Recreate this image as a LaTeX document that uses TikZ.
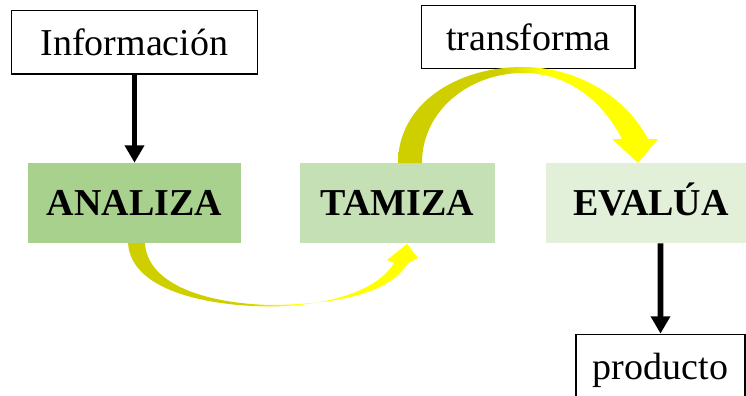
\documentclass[tikz,border=0pt]{standalone}
\usepackage{fontspec}
\setmainfont{Liberation Serif}
\usetikzlibrary{arrows.meta}
\definecolor{olv}{RGB}{207,207,0}
\definecolor{ylw}{RGB}{255,255,0}
\definecolor{gra}{HTML}{A9D18E}
\definecolor{grb}{HTML}{C5E0B4}
\definecolor{grc}{HTML}{E2F0D9}
\pgfdeclarehorizontalshading{ylwshade}{100bp}{color(0bp)=(olv); color(25bp)=(olv); color(45bp)=(olv); color(53bp)=(ylw); color(75bp)=(ylw); color(100bp)=(ylw)}
\begin{document}
\begin{tikzpicture}[x=0.75pt,y=-0.75pt,
  txt/.style={font=\fontsize{28.5}{34}\selectfont,inner sep=0pt},
  plain/.style={txt,draw,line width=1pt,minimum height=47.5pt},
  verb/.style={txt,font=\fontsize{28.5}{34}\selectfont\bfseries,minimum height=60pt,text height=19pt,text depth=0pt},
  down/.style={-{Triangle[width=14pt,length=13pt]},line width=4.3pt}]
\clip(0,0)rectangle(746,396);
\draw(134.5,42.3)node[plain,minimum width=184.2pt](info){Información};
\draw(528.3,37)node[plain,minimum width=160pt,minimum height=47pt](trans){transforma};
\draw(134.5,203)node[verb,fill=gra,minimum width=159.75pt](analiza){ANALIZA};
\draw(397.5,203)node[verb,fill=grb,minimum width=146.25pt](tamiza){TAMIZA};
\draw(651,203)node[verb,fill=grc,minimum width=157.5pt](evalua){EVALÚA};
\draw(660.5,371)node[plain,minimum width=126.75pt,minimum height=55pt,text height=19pt,text depth=6pt](producto){producto};
\draw[down](info.south)--(analiza.north);
\draw[down]([xshift=7.1pt]evalua.south)--(producto.north);
\shade[shading=ylwshade](128,243) .. controls (131,290) and (205,306) .. (270,306.5)
  .. controls (330,306) and (378,290) .. (394,263)--(387,260)--(407,244)--(418,258)--(408,263)
  .. controls (388,296) and (330,304.5) .. (270,305)
  .. controls (200,303) and (147,282) .. (145,243)--cycle;
\shade[shading=ylwshade](398,163) .. controls (398,105) and (455,67) .. (523,67)
  .. controls (575,67) and (625,95) .. (648,139)--(658,139)--(638,163)--(612,139)--(622,139)
  .. controls (600,97) and (565,73) .. (523,73)
  .. controls (470,73) and (422,110) .. (422,163)--cycle;
\end{tikzpicture}
\end{document}
